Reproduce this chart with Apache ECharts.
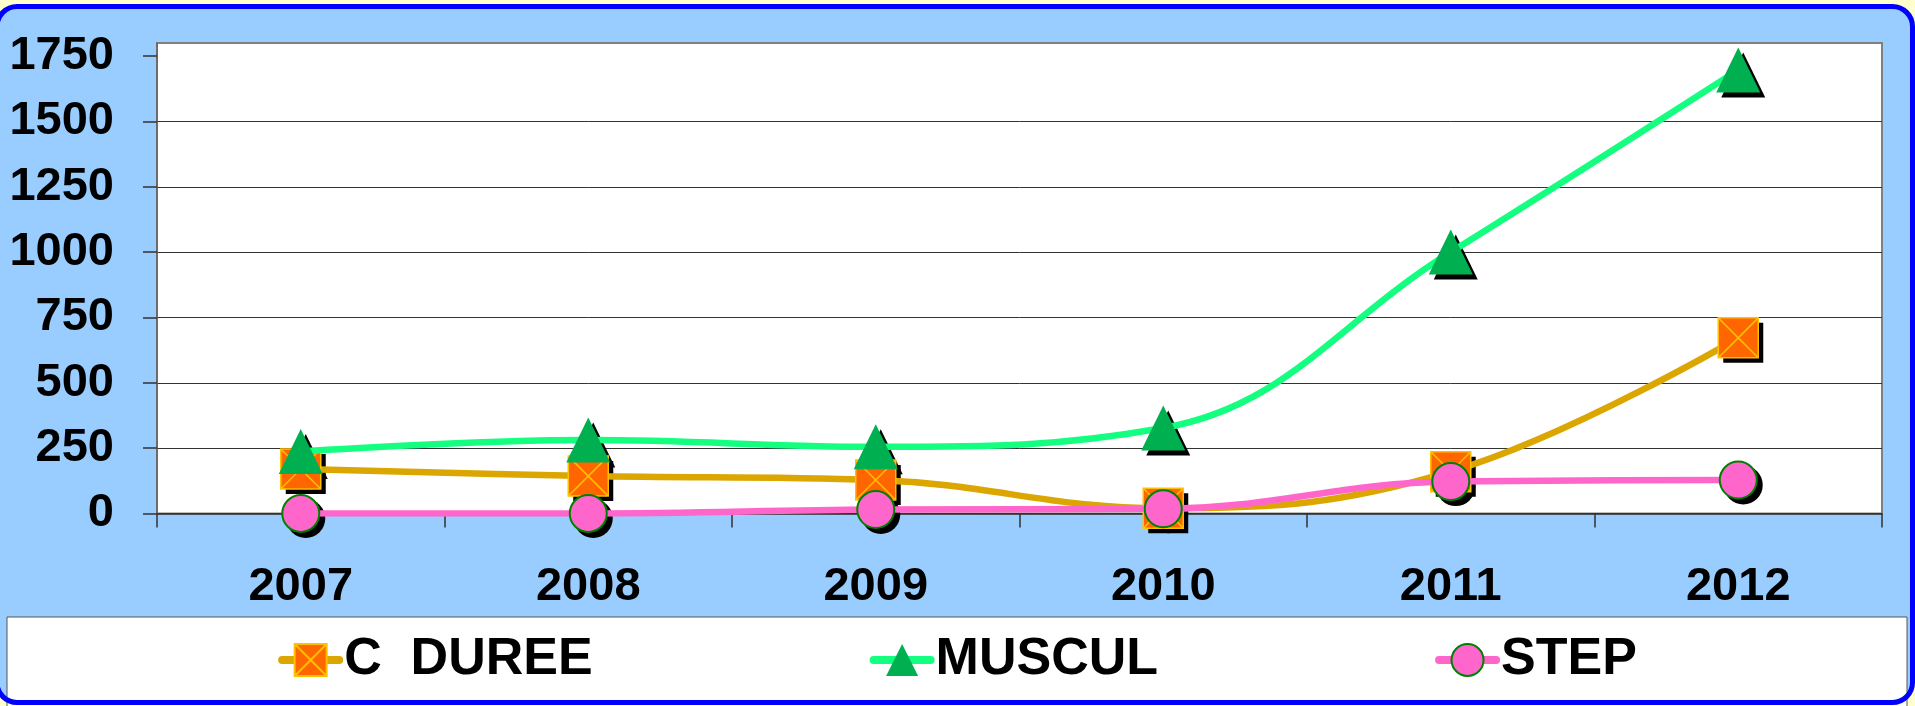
<!DOCTYPE html>
<html>
<head>
<meta charset="utf-8">
<script src="https://cdn.jsdelivr.net/npm/echarts@6/dist/echarts.min.js"></script>
<style>
  html, body { margin: 0; padding: 0; background: #FFFFCC; }
  #chart { width: 1915px; height: 706px; }
</style>
</head>
<body>
<div id="chart"></div>
<script>
// Yearly counts per activity
const years = ['2007', '2008', '2009', '2010', '2011', '2012'];
const cDuree = [170, 143, 128, 20, 160, 672];
const muscul = [237, 281, 255, 327, 1000, 1697];
const step = [0, 0, 15, 18, 122, 128];
const yTicks = [0, 250, 500, 750, 1000, 1250, 1500, 1750];

const FONT = 'Liberation Sans, Arial, sans-serif';
// square with a cross through it
const crossSquare = 'path://M0,0L40,0L40,40L0,40ZM0,0L40,40M40,0L0,40';
const plainSquare = 'path://M0,0L40,0L40,40L0,40Z';

// black drop shadow under each marker, drawn as its own marker-only series
function shadowSeries(name, data, symbol, size) {
  return {
    name: name, type: 'line', data: data, smooth: true, z: 2, silent: true,
    symbol: symbol, symbolSize: size, symbolOffset: [5, 5], showAllSymbol: true,
    lineStyle: { opacity: 0, width: 0 },
    itemStyle: { color: '#000', borderWidth: 0 },
    emphasis: { disabled: true }
  };
}

const chart = echarts.init(document.getElementById('chart'), null, { renderer: 'canvas' });

chart.setOption({
  backgroundColor: 'transparent',
  animation: false,
  graphic: [
    { type: 'rect', z: -10, silent: true,
      shape: { x: -3, y: 6.5, width: 1915.5, height: 696, r: 20 },
      style: { fill: '#99CCFF' } },
    { type: 'rect', z: -5, silent: true,
      shape: { x: 7, y: 617, width: 1900, height: 90 },
      style: { fill: '#FFFFFF', stroke: '#555', lineWidth: 1 } },
    { type: 'rect', z: 100, silent: true,
      shape: { x: -3, y: 6.5, width: 1915.5, height: 696, r: 20 },
      style: { fill: 'none', stroke: '#0000FF', lineWidth: 5 } }
  ],
  grid: {
    left: 157, right: 33, top: 43, bottom: 192.5,
    show: true, backgroundColor: '#FFFFFF', borderColor: '#808080', borderWidth: 2
  },
  legend: {
    left: 'center', top: 634, padding: 0,
    itemWidth: 57, itemHeight: 40, itemGap: 277,
    lineStyle: { width: 8, cap: 'round' },
    textStyle: { fontFamily: FONT, fontWeight: 'bold', fontSize: 52, color: '#000' },
    data: ['C  DUREE', 'MUSCUL', 'STEP']
  },
  xAxis: {
    type: 'category',
    data: years,
    boundaryGap: true,
    axisLine: { show: true, lineStyle: { color: '#333', width: 1.5 } },
    axisTick: { show: true, length: 14, lineStyle: { color: '#333', width: 1.5 } },
    axisLabel: { margin: 50, fontFamily: FONT, fontWeight: 'bold', fontSize: 47, color: '#000' },
    splitLine: { show: false }
  },
  yAxis: {
    type: 'value',
    min: 0, max: 1800, interval: 250,
    axisLine: { show: true, lineStyle: { color: '#666', width: 1.5 } },
    axisTick: { show: true, length: 14, customValues: yTicks, lineStyle: { color: '#333', width: 1.5 } },
    axisLabel: {
      margin: 43, fontFamily: FONT, fontWeight: 'bold', fontSize: 47, color: '#000',
      customValues: yTicks,
      formatter: function (v) { return String(v); }
    },
    splitLine: { show: true, showMaxLine: false, lineStyle: { color: '#333', width: 1 } }
  },
  series: [
    shadowSeries('C  DUREE ombre', cDuree, plainSquare, 40),
    shadowSeries('MUSCUL ombre', muscul, 'triangle', [44, 45]),
    shadowSeries('STEP ombre', step, 'circle', 39),
    {
      name: 'C  DUREE', type: 'line', data: cDuree, smooth: 0.4, z: 3,
      symbol: crossSquare, symbolSize: 40,
      lineStyle: { color: '#DBA600', width: 6.5 },
      itemStyle: { color: '#FF6600', borderColor: '#FFC000', borderWidth: 1.5 }
    },
    {
      name: 'MUSCUL', type: 'line', data: muscul, smooth: 0.4, z: 4,
      symbol: 'triangle', symbolSize: [44, 45],
      lineStyle: { color: '#14FF80', width: 6.5 },
      itemStyle: { color: '#00B050', borderWidth: 0 }
    },
    {
      name: 'STEP', type: 'line', data: step, smooth: 0.4, z: 5,
      symbol: 'circle', symbolSize: 37,
      lineStyle: { color: '#FF66CC', width: 6.5 },
      itemStyle: { color: '#FF66CC', borderColor: '#008000', borderWidth: 2 }
    }
  ]
});
</script>
</body>
</html>
